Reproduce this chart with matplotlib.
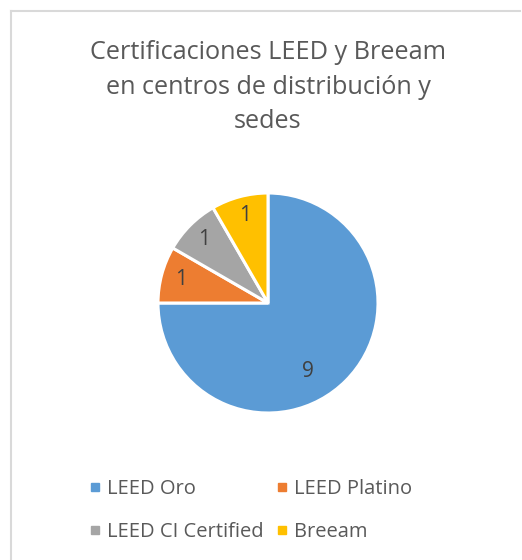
import matplotlib
matplotlib.use("Agg")
import numpy as np
import matplotlib.pyplot as plt
from matplotlib.lines import Line2D

labels = ["LEED Oro", "LEED Platino", "LEED CI Certified", "Breeam"]
values = [9, 1, 1, 1]
colors = ["#5B9BD5", "#ED7D31", "#A5A5A5", "#FFC000"]
title = "Certificaciones LEED y Breeam\nen centros de distribución y\nsedes"

plt.rcParams["font.family"] = ["Open Sans", "DejaVu Sans"]
txt = "#595959"

fig = plt.figure(figsize=(5.22, 5.60), dpi=100)
ax = fig.add_axes([158 / 522, 1 - 413 / 560, 220 / 522, 220 / 560])
wedges, _, autotexts = ax.pie(values, colors=colors, startangle=90, counterclock=False,
       autopct=lambda p: f"{p * sum(values) / 100:.0f}", pctdistance=0.82,
       textprops={"color": "#404040", "fontsize": 15},
       wedgeprops={"edgecolor": "white", "linewidth": 2.2})
# big slice label sits a bit lower, like Excel does
a = np.deg2rad(-60)
autotexts[0].set_position((0.72 * np.cos(a), 0.72 * np.sin(a)))
ax.set_xlim(-1.0, 1.0)
ax.set_ylim(-1.0, 1.0)
ax.set_aspect("auto")
ax.axis("off")

fig.text(268 / 522, 1 - 87 / 560, title, ha="center", va="center",
         fontsize=18.2, color=txt, linespacing=1.5)

# chart frame (top and left edges visible)
fig.add_artist(Line2D([11 / 522, 11 / 522], [0, 1 - 11 / 560], color="#D9D9D9", lw=1.5))
fig.add_artist(Line2D([11 / 522, 520 / 522], [1 - 11 / 560, 1 - 11 / 560], color="#D9D9D9", lw=1.5))

# row-wise legend order
order = [0, 2, 1, 3]
handles = [Line2D([], [], marker="s", linestyle="", color=colors[i], markersize=5.5) for i in order]
fig.legend(handles, [labels[i] for i in order], ncol=2, loc="upper left",
           bbox_to_anchor=(70 / 522, 1 - 461 / 560),
           frameon=False, fontsize=14.5, labelcolor=txt, handlelength=0.7, handletextpad=0.25,
           columnspacing=0.55, labelspacing=1.15)

fig.savefig("out.png", dpi=100)
